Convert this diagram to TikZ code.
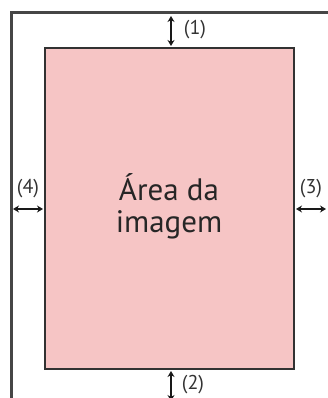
\documentclass[tikz,border=0pt]{standalone}
\usepackage{fontspec}
\setmainfont{PT Sans}
\usetikzlibrary{arrows.meta, positioning, calc}
\definecolor{areapink}{RGB}{246, 197, 197}
\definecolor{framegray}{RGB}{70, 70, 70}
\definecolor{edgegray}{RGB}{50, 50, 50}
\tikzset{
    pageframe/.style={
        draw=framegray,
        line width=3pt,
    },
    imagearea/.style={
        draw=edgegray,
        fill=areapink,
        line width=2.2pt,
    },
    dimarrow/.style={
        {Stealth[length=6pt, width=7pt]}-{Stealth[length=6pt, width=7pt]},
        line width=2pt,
        color=black!90,
    },
    dimlabel/.style={
        font=\fontsize{20}{22}\selectfont,
        text=black!80,
        inner sep=0pt,
    },
}

\begin{document}
\begin{tikzpicture}[x=1pt, y=-1pt]
\useasboundingbox (0, 0) rectangle (327, 398);

% ===== 页面边框 =====
\draw[pageframe] (11, 400) -- (11, 13) -- (329, 13);

% ===== 图像区域 =====
\filldraw[imagearea] (45, 48) rectangle (294, 369);
\node[font=\fontsize{31}{32}\selectfont, text=black!85, align=center] (areatext) at (169, 206) {Área da\\imagem};

% ===== 边距标注 =====
% (1) top
\coordinate (top1) at (171, 16);
\coordinate (top2) at (171, 46);
\draw[dimarrow] (top1) -- (top2);
\node[dimlabel] (lab1) at (195, 30) {(1)};

% (2) bottom
\coordinate (bot1) at (171, 371);
\coordinate (bot2) at (171, 401);
\draw[dimarrow] (bot1) -- (bot2);
\node[dimlabel] (lab2) at (193, 385) {(2)};

% (4) left
\coordinate (left1) at (13, 209);
\coordinate (left2) at (43, 209);
\draw[dimarrow] (left1) -- (left2);
\node[dimlabel] (lab4) at (28, 189) {(4)};

% (3) right
\coordinate (right1) at (296, 209);
\coordinate (right2) at (326, 209);
\draw[dimarrow] (right1) -- (right2);
\node[dimlabel] (lab3) at (311, 189) {(3)};

\end{tikzpicture}
\end{document}
